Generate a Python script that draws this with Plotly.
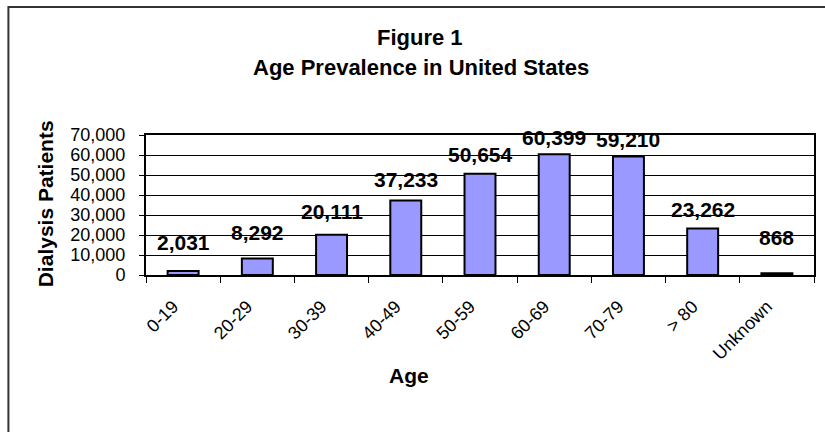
import plotly.graph_objects as go

# Dialysis patients by age group
age_groups = ["0-19", "20-29", "30-39", "40-49", "50-59", "60-69", "70-79", "> 80", "Unknown"]
patients = [2031, 8292, 20111, 37233, 50654, 60399, 59210, 23262, 868]
y_ticks = [0, 10000, 20000, 30000, 40000, 50000, 60000, 70000]

# vertical offsets (px) of each value label above its bar top
label_shift = [28, 26, 23, 21.5, 19, 17, 17, 18.5, 36]

FONT = "Liberation Sans, Arial, sans-serif"
W, H = 825, 432
L, R, T, B = 146, 9, 135, 157
PW, PH = W - L - R, H - T - B


def px_x(px):
    return (px - L) / PW


def px_y(py):
    return (H - B - py) / PH


fig = go.Figure()
fig.add_trace(go.Bar(
    x=age_groups,
    y=patients,
    marker=dict(color="#9999FF", line=dict(color="#000000", width=2)),
    hoverinfo="x+y",
))

for cat, val, dy in zip(age_groups, patients, label_shift):
    fig.add_annotation(
        x=cat, y=val, text=f"<b>{val:,}</b>", showarrow=False,
        yanchor="middle", yshift=dy,
        font=dict(family=FONT, size=21, color="#000000"),
    )

# chart title (two lines)
fig.add_annotation(xref="paper", yref="paper", x=px_x(421), y=px_y(37),
                   text="<b>Figure 1</b>", showarrow=False,
                   xanchor="center", yanchor="middle",
                   font=dict(family=FONT, size=22, color="#000000"))
fig.add_annotation(xref="paper", yref="paper", x=px_x(421.5), y=px_y(68),
                   text="<b>Age Prevalence in United States</b>", showarrow=False,
                   xanchor="center", yanchor="middle",
                   font=dict(family=FONT, size=22, color="#000000"))

# axis titles
fig.add_annotation(xref="paper", yref="paper", x=px_x(410), y=px_y(375),
                   text="<b>Age</b>", showarrow=False,
                   xanchor="center", yanchor="middle",
                   font=dict(family=FONT, size=21, color="#000000"))
fig.add_annotation(xref="paper", yref="paper", x=px_x(45), y=px_y(204),
                   text="<b>Dialysis Patients</b>", showarrow=False, textangle=-90,
                   xanchor="center", yanchor="middle",
                   font=dict(family=FONT, size=21, color="#000000"))

# outer chart frame
fig.add_shape(type="rect", xref="paper", yref="paper",
              x0=px_x(8), x1=px_x(840), y0=px_y(450), y1=px_y(7),
              line=dict(color="#333333", width=2), fillcolor="rgba(0,0,0,0)",
              layer="below")

fig.update_layout(
    width=W, height=H,
    margin=dict(l=L, r=R, t=T, b=B, pad=0),
    paper_bgcolor="#FFFFFF", plot_bgcolor="#FFFFFF",
    bargap=0.583,
    showlegend=False,
    font=dict(family=FONT, color="#000000"),
)
fig.update_xaxes(
    type="category",
    tickangle=-45,
    tickson="boundaries",
    ticks="outside", ticklen=6, tickwidth=1, tickcolor="#000000",
    showline=True, linecolor="#000000", linewidth=2, mirror=True,
    showgrid=False,
    tickfont=dict(family=FONT, size=18, color="#000000"),
    ticklabelstandoff=12, ticklabelshift=-10,
)
fig.update_yaxes(
    range=[0, 70000],
    tickvals=y_ticks, tickformat=",d",
    ticks="outside", ticklen=5, tickwidth=1, tickcolor="#000000",
    showline=True, linecolor="#000000", linewidth=2, mirror=True,
    showgrid=True, gridcolor="#000000", gridwidth=1,
    zeroline=False,
    tickfont=dict(family=FONT, size=18, color="#000000"),
    ticklabelstandoff=10,
)

fig.write_html("out.html")
